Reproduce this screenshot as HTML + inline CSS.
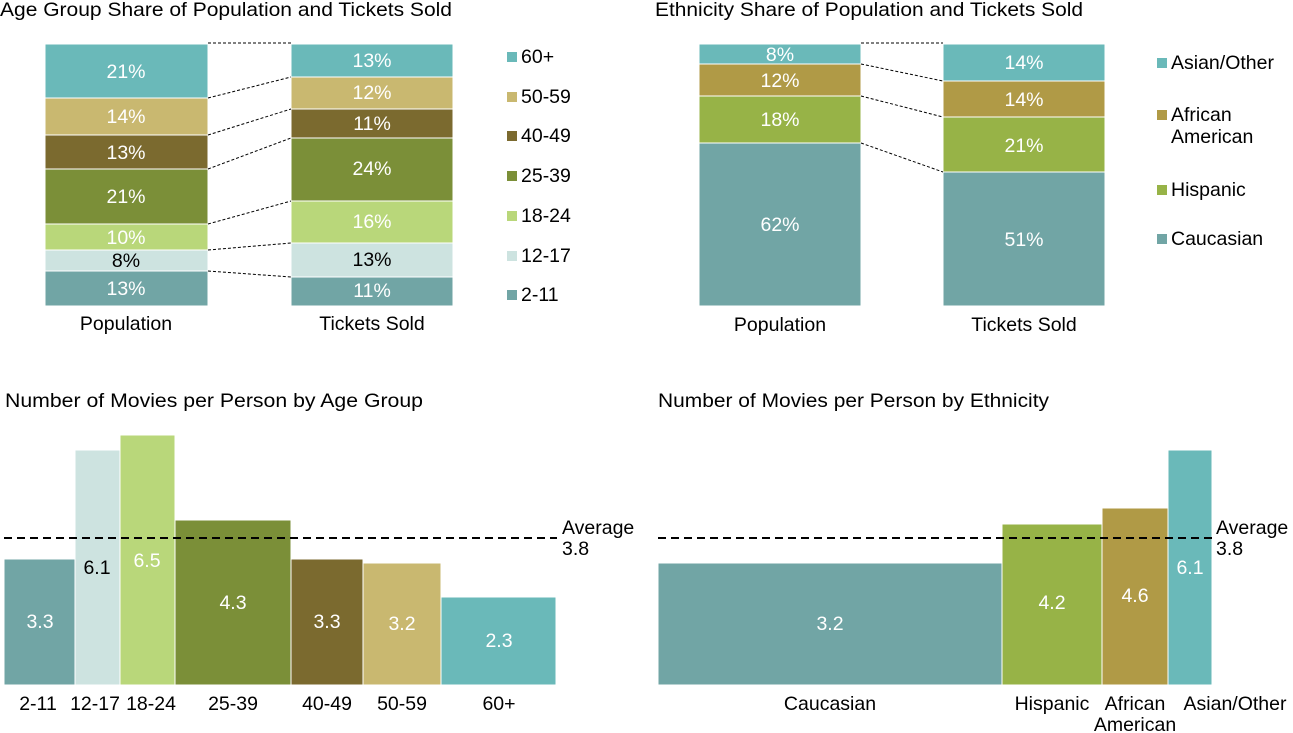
<!DOCTYPE html>
<html><head><meta charset="utf-8"><style>
html,body{margin:0;padding:0;background:#fff}
svg{display:block}
text{font-family:"Liberation Sans",Arial,sans-serif;font-size:19.5px;fill:#000}
.w{fill:#fff;text-anchor:middle}
.b{text-anchor:middle}
.d{stroke:#000;stroke-width:1;stroke-dasharray:3,2;fill:none}
</style></head><body>
<svg width="1293" height="733" viewBox="0 0 1293 733" xmlns="http://www.w3.org/2000/svg">
<!-- Titles -->
<text x="0" y="16" textLength="452" lengthAdjust="spacingAndGlyphs">Age Group Share of Population and Tickets Sold</text>
<text x="655" y="16" textLength="428" lengthAdjust="spacingAndGlyphs">Ethnicity Share of Population and Tickets Sold</text>
<text x="5" y="407" textLength="418" lengthAdjust="spacingAndGlyphs">Number of  Movies per Person by Age Group</text>
<text x="658" y="407" textLength="391" lengthAdjust="spacingAndGlyphs">Number of Movies per Person by Ethnicity</text>

<!-- Top-left: population -->
<g stroke="#fff" stroke-width="1">
<rect x="45" y="44" width="163" height="54" fill="#6ab9b9"/>
<rect x="45" y="98" width="163" height="37" fill="#c9b870"/>
<rect x="45" y="135" width="163" height="34" fill="#7b6a2f"/>
<rect x="45" y="169" width="163" height="55" fill="#7b8f38"/>
<rect x="45" y="224" width="163" height="26" fill="#b9d77a"/>
<rect x="45" y="250" width="163" height="21" fill="#cde3e0"/>
<rect x="45" y="271" width="163" height="35" fill="#71a5a5"/>
<rect x="291" y="44" width="162" height="33" fill="#6ab9b9"/>
<rect x="291" y="77" width="162" height="32" fill="#c9b870"/>
<rect x="291" y="109" width="162" height="29" fill="#7b6a2f"/>
<rect x="291" y="138" width="162" height="63" fill="#7b8f38"/>
<rect x="291" y="201" width="162" height="42" fill="#b9d77a"/>
<rect x="291" y="243" width="162" height="34" fill="#cde3e0"/>
<rect x="291" y="277" width="162" height="29" fill="#71a5a5"/>
</g>
<text class="w" x="126" y="78">21%</text>
<text class="w" x="126" y="123">14%</text>
<text class="w" x="126" y="159">13%</text>
<text class="w" x="126" y="203">21%</text>
<text class="w" x="126" y="244">10%</text>
<text class="b" x="126" y="267">8%</text>
<text class="w" x="126" y="295">13%</text>
<text class="w" x="372" y="67">13%</text>
<text class="w" x="372" y="99">12%</text>
<text class="w" x="372" y="130">11%</text>
<text class="w" x="372" y="175">24%</text>
<text class="w" x="372" y="228">16%</text>
<text class="b" x="372" y="266">13%</text>
<text class="w" x="372" y="297">11%</text>
<path class="d" d="M208 43H291 M208 98L291 77 M208 135L291 109 M208 169L291 138 M208 224L291 201 M208 250L291 243 M208 271L291 277"/>
<text class="b" x="126" y="330">Population</text>
<text class="b" x="372" y="330">Tickets Sold</text>
<!-- legend left -->
<rect x="507" y="52" width="10" height="10" fill="#6ab9b9"/><text x="521" y="63">60+</text>
<rect x="507" y="92" width="10" height="10" fill="#c9b870"/><text x="521" y="103">50-59</text>
<rect x="507" y="131" width="10" height="10" fill="#7b6a2f"/><text x="521" y="142">40-49</text>
<rect x="507" y="171" width="10" height="10" fill="#7b8f38"/><text x="521" y="182">25-39</text>
<rect x="507" y="211" width="10" height="10" fill="#b9d77a"/><text x="521" y="222">18-24</text>
<rect x="507" y="251" width="10" height="10" fill="#cde3e0"/><text x="521" y="262">12-17</text>
<rect x="507" y="290" width="10" height="10" fill="#71a5a5"/><text x="521" y="301">2-11</text>

<!-- Top-right -->
<g stroke="#fff" stroke-width="1">
<rect x="699" y="44" width="162" height="20" fill="#6ab9b9"/>
<rect x="699" y="64" width="162" height="32" fill="#b09a46"/>
<rect x="699" y="96" width="162" height="47" fill="#97b347"/>
<rect x="699" y="143" width="162" height="163" fill="#71a5a5"/>
<rect x="943" y="44" width="162" height="37" fill="#6ab9b9"/>
<rect x="943" y="81" width="162" height="36" fill="#b09a46"/>
<rect x="943" y="117" width="162" height="55" fill="#97b347"/>
<rect x="943" y="172" width="162" height="134" fill="#71a5a5"/>
</g>
<text class="w" x="780" y="61">8%</text>
<text class="w" x="780" y="87">12%</text>
<text class="w" x="780" y="126">18%</text>
<text class="w" x="780" y="231">62%</text>
<text class="w" x="1024" y="69">14%</text>
<text class="w" x="1024" y="106">14%</text>
<text class="w" x="1024" y="152">21%</text>
<text class="w" x="1024" y="246">51%</text>
<path class="d" d="M861 43H943 M861 64L943 81 M861 96L943 117 M861 143L943 172"/>
<text class="b" x="780" y="331">Population</text>
<text class="b" x="1024" y="331">Tickets Sold</text>
<rect x="1157" y="58" width="10" height="10" fill="#6ab9b9"/><text x="1171" y="69">Asian/Other</text>
<rect x="1157" y="110" width="10" height="10" fill="#b09a46"/><text x="1171" y="121">African</text><text x="1171" y="143">American</text>
<rect x="1157" y="185" width="10" height="10" fill="#97b347"/><text x="1171" y="196">Hispanic</text>
<rect x="1157" y="234" width="10" height="10" fill="#71a5a5"/><text x="1171" y="245">Caucasian</text>

<!-- Bottom-left -->
<g stroke="#fff" stroke-width="1">
<rect x="4" y="559" width="71" height="126" fill="#71a5a5"/>
<rect x="75" y="450" width="45" height="235" fill="#cde3e0"/>
<rect x="120" y="435" width="55" height="250" fill="#b9d77a"/>
<rect x="175" y="520" width="116" height="165" fill="#7b8f38"/>
<rect x="291" y="559" width="72" height="126" fill="#7b6a2f"/>
<rect x="363" y="563" width="78" height="122" fill="#c9b870"/>
<rect x="441" y="597" width="115" height="88" fill="#6ab9b9"/>
</g>
<path d="M4 538H557" stroke="#000" stroke-width="2" stroke-dasharray="8,5"/>
<text class="w" x="40" y="628">3.3</text>
<text class="b" x="97" y="574">6.1</text>
<text class="w" x="147" y="567">6.5</text>
<text class="w" x="233" y="609">4.3</text>
<text class="w" x="327" y="628">3.3</text>
<text class="w" x="402" y="630">3.2</text>
<text class="w" x="499" y="647">2.3</text>
<text x="562" y="534">Average</text><text x="562" y="555">3.8</text>
<text class="b" x="38" y="710">2-11</text><text class="b" x="95" y="710">12-17</text><text class="b" x="151" y="710">18-24</text><text class="b" x="233" y="710">25-39</text><text class="b" x="327" y="710">40-49</text><text class="b" x="402" y="710">50-59</text><text class="b" x="499" y="710">60+</text>

<!-- Bottom-right -->
<g stroke="#fff" stroke-width="1">
<rect x="658" y="563" width="344" height="122" fill="#71a5a5"/>
<rect x="1002" y="524" width="100" height="161" fill="#97b347"/>
<rect x="1102" y="508" width="66" height="177" fill="#b09a46"/>
<rect x="1168" y="450" width="44" height="235" fill="#6ab9b9"/>
</g>
<path d="M658 538H1213" stroke="#000" stroke-width="2" stroke-dasharray="8,5"/>
<text class="w" x="830" y="630">3.2</text>
<text class="w" x="1052" y="609">4.2</text>
<text class="w" x="1135" y="602">4.6</text>
<text class="w" x="1190" y="574">6.1</text>
<text x="1216" y="534">Average</text><text x="1216" y="555">3.8</text>
<text class="b" x="830" y="710">Caucasian</text>
<text class="b" x="1052" y="710">Hispanic</text>
<text class="b" x="1135" y="710">African</text>
<text class="b" x="1135" y="731">American</text>
<text class="b" x="1235" y="710">Asian/Other</text>
</svg>
</body></html>
